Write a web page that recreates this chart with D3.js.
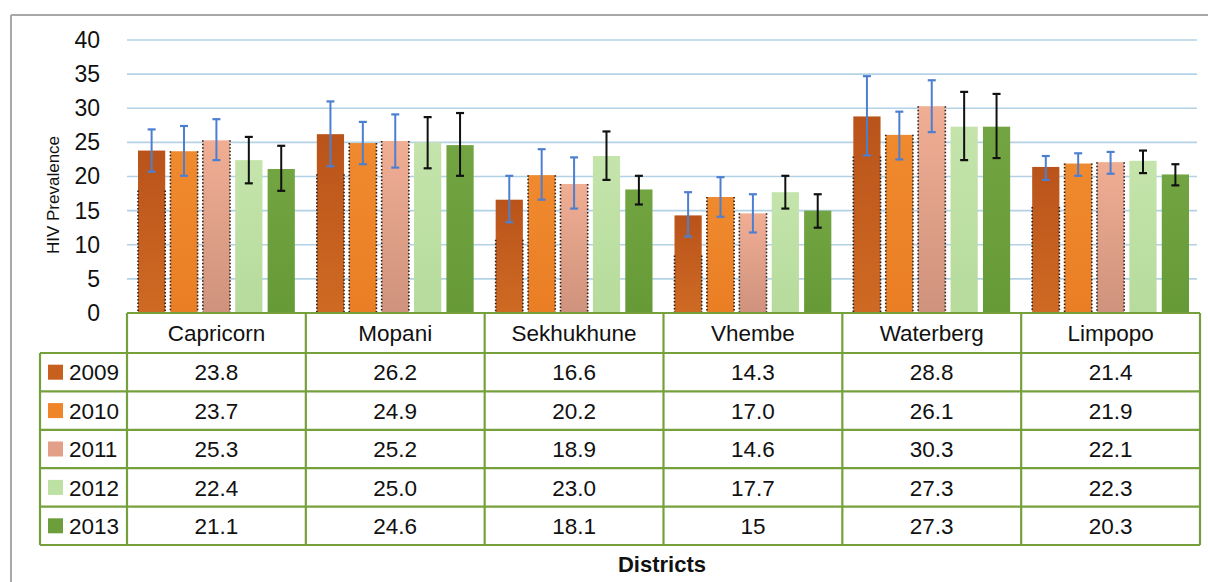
<!DOCTYPE html>
<html>
<head>
<meta charset="utf-8">
<script src="https://cdn.jsdelivr.net/npm/d3@7"></script>
<style>
  html, body { margin: 0; padding: 0; background: #ffffff; }
  svg { display: block; font-family: "Liberation Sans", Arial, sans-serif; }
</style>
</head>
<body>
<svg id="chart" width="1208" height="582"></svg>
<script>
// ---- data ----
const districts = ["Capricorn", "Mopani", "Sekhukhune", "Vhembe", "Waterberg", "Limpopo"];
const years = ["2009", "2010", "2011", "2012", "2013"];
const v2009 = [23.8, 26.2, 16.6, 14.3, 28.8, 21.4];
const v2010 = [23.7, 24.9, 20.2, 17.0, 26.1, 21.9];
const v2011 = [25.3, 25.2, 18.9, 14.6, 30.3, 22.1];
const v2012 = [22.4, 25.0, 23.0, 17.7, 27.3, 22.3];
const v2013 = [21.1, 24.6, 18.1, 15.0, 27.3, 20.3];
const label2009 = ["23.8", "26.2", "16.6", "14.3", "28.8", "21.4"];
const label2010 = ["23.7", "24.9", "20.2", "17.0", "26.1", "21.9"];
const label2011 = ["25.3", "25.2", "18.9", "14.6", "30.3", "22.1"];
const label2012 = ["22.4", "25.0", "23.0", "17.7", "27.3", "22.3"];
const label2013 = ["21.1", "24.6", "18.1", "15", "27.3", "20.3"];
// confidence interval ends
const low2009 = [20.7, 21.5, 13.3, 11.2, 23.1, 19.5];
const high2009 = [26.9, 31.0, 20.1, 17.7, 34.7, 23.0];
const low2010 = [20.1, 21.8, 16.6, 14.1, 22.5, 20.1];
const high2010 = [27.4, 28.0, 24.0, 19.9, 29.5, 23.4];
const low2011 = [22.4, 21.3, 15.3, 11.8, 26.5, 20.4];
const high2011 = [28.4, 29.1, 22.8, 17.4, 34.1, 23.6];
const low2012 = [19.0, 21.2, 19.5, 15.3, 22.4, 20.5];
const high2012 = [25.8, 28.7, 26.6, 20.1, 32.4, 23.8];
const low2013 = [17.9, 20.1, 15.9, 12.5, 22.7, 18.7];
const high2013 = [24.5, 29.3, 20.1, 17.4, 32.1, 21.8];
const yTicks = [0, 5, 10, 15, 20, 25, 30, 35, 40];

const values = [v2009, v2010, v2011, v2012, v2013];
const labels = [label2009, label2010, label2011, label2012, label2013];
const lows = [low2009, low2010, low2011, low2012, low2013];
const highs = [high2009, high2010, high2011, high2012, high2013];

// ---- styles ----
const colors = ["#c75f1e", "#ef8428", "#e3a088", "#bde0a3", "#6c9f3c"];
const colorsTop = ["#b9531a", "#f08a2e", "#f0ae94", "#c4e4ab", "#72a542"];
const colorsBot = ["#cf6a24", "#ea7e24", "#cf927c", "#b6db9c", "#669a36"];
const errColors = ["#4d7fd0", "#4d7fd0", "#4d7fd0", "#111111", "#111111"];
const gridColor = "#b3d2e6";
const tableColor = "#76a03c";

const svg = d3.select("#chart");

// frame
svg.append("line").attr("x1", 11).attr("x2", 1208).attr("y1", 15).attr("y2", 15)
  .attr("stroke", "#a8a8a8").attr("stroke-width", 2);
svg.append("line").attr("x1", 11).attr("x2", 11).attr("y1", 15).attr("y2", 582)
  .attr("stroke", "#a8a8a8").attr("stroke-width", 2);

const plotLeft = 127, plotRight = 1200;
const y = d3.scaleLinear().domain([0, 40]).range([313, 40]);
const x0 = d3.scaleBand().domain(districts).range([plotLeft, plotRight]).padding(0);
const x1 = d3.scaleBand().domain(years).range([11, x0.bandwidth() - 11]).paddingInner(0.16).paddingOuter(0);

// gradients
const defs = svg.append("defs");
years.forEach((yr, i) => {
  const g = defs.append("linearGradient").attr("id", "grad" + i)
    .attr("x1", 0).attr("y1", 0).attr("x2", 0).attr("y2", 1);
  g.append("stop").attr("offset", "0%").attr("stop-color", colorsTop[i]);
  g.append("stop").attr("offset", "100%").attr("stop-color", colorsBot[i]);
});

// gridlines
svg.append("g").selectAll("line").data(yTicks.filter(t => t > 0)).join("line")
  .attr("x1", plotLeft).attr("x2", 1197)
  .attr("y1", d => y(d)).attr("y2", d => y(d))
  .attr("stroke", gridColor).attr("stroke-width", 1.6);

// y axis labels
const yAxis = d3.axisLeft(y).tickValues(yTicks).tickSize(0).tickPadding(0);
const ya = svg.append("g").attr("transform", "translate(100,0)").call(yAxis);
ya.select(".domain").remove();
ya.selectAll("text").attr("font-size", 23).attr("fill", "#111")
  .attr("font-family", "Liberation Sans, Arial, sans-serif");

// y title
svg.append("text")
  .attr("transform", "translate(59,195) rotate(-90)")
  .attr("text-anchor", "middle")
  .attr("font-size", 17).attr("fill", "#111")
  .text("HIV Prevalence");

// bars
const groups = svg.append("g").selectAll("g").data(districts).join("g")
  .attr("transform", d => `translate(${x0(d)},0)`);

years.forEach((yr, si) => {
  const bx = d => x1(yr);
  groups.append("rect")
    .attr("x", bx)
    .attr("y", (d, di) => y(values[si][di]))
    .attr("width", x1.bandwidth())
    .attr("height", (d, di) => y(0) - y(values[si][di]))
    .attr("fill", `url(#grad${si})`);
  if (si < 3) {
    [0, x1.bandwidth()].forEach(off => {
      groups.append("line")
        .attr("x1", x1(yr) + off).attr("x2", x1(yr) + off)
        .attr("y1", (d, di) => y(values[si][di]) + (si === 0 ? 40 : 0))
        .attr("y2", y(0))
        .attr("stroke", "#222").attr("stroke-width", 1.6)
        .attr("stroke-dasharray", "1.5,2");
    });
  }
});

// error bars
years.forEach((yr, si) => {
  const cx = x1(yr) + x1.bandwidth() / 2;
  const c = errColors[si];
  groups.append("line")
    .attr("x1", cx).attr("x2", cx)
    .attr("y1", (d, di) => y(highs[si][di])).attr("y2", (d, di) => y(lows[si][di]))
    .attr("stroke", c).attr("stroke-width", 2);
  groups.append("line")
    .attr("x1", cx - 4).attr("x2", cx + 4)
    .attr("y1", (d, di) => y(highs[si][di])).attr("y2", (d, di) => y(highs[si][di]))
    .attr("stroke", c).attr("stroke-width", 2.2);
  groups.append("line")
    .attr("x1", cx - 4).attr("x2", cx + 4)
    .attr("y1", (d, di) => y(lows[si][di])).attr("y2", (d, di) => y(lows[si][di]))
    .attr("stroke", c).attr("stroke-width", 2.2);
});

// ---- data table ----
const headTop = y(0), headBottom = 353, tableBottom = 545, legendLeft = 40;
const rowY = d3.scaleBand().domain(years).range([headBottom, tableBottom]);
const tbl = svg.append("g");

// header texts
tbl.selectAll("text.head").data(districts).join("text").attr("class", "head")
  .attr("x", d => x0(d) + x0.bandwidth() / 2)
  .attr("y", (headTop + headBottom) / 2)
  .attr("dy", "0.36em").attr("text-anchor", "middle")
  .attr("font-size", 22.5).attr("fill", "#111")
  .text(d => d);

// cells
years.forEach((yr, si) => {
  tbl.append("g").selectAll("text").data(districts).join("text")
    .attr("x", d => x0(d) + x0.bandwidth() / 2)
    .attr("y", rowY(yr) + rowY.bandwidth() / 2)
    .attr("dy", "0.36em").attr("text-anchor", "middle")
    .attr("font-size", 22.5).attr("fill", "#111")
    .text((d, di) => labels[si][di]);
  // legend swatch + year
  tbl.append("rect")
    .attr("x", 48).attr("y", rowY(yr) + rowY.bandwidth() / 2 - 7.5)
    .attr("width", 15).attr("height", 15)
    .attr("fill", colors[si]);
  tbl.append("text")
    .attr("x", 69).attr("y", rowY(yr) + rowY.bandwidth() / 2)
    .attr("dy", "0.36em")
    .attr("font-size", 22.5).attr("fill", "#111")
    .text(yr);
});

// table lines
const hLines = [{y: headTop, x1: plotLeft}, {y: headBottom, x1: legendLeft}]
  .concat(years.map(yr => ({y: rowY(yr) + rowY.bandwidth(), x1: legendLeft})));
tbl.append("g").selectAll("line").data(hLines).join("line")
  .attr("x1", d => d.x1).attr("x2", plotRight)
  .attr("y1", d => d.y).attr("y2", d => d.y)
  .attr("stroke", tableColor).attr("stroke-width", 2.2);
const vLines = districts.map(d => x0(d)).concat([plotRight]);
tbl.append("g").selectAll("line").data(vLines).join("line")
  .attr("x1", d => d).attr("x2", d => d)
  .attr("y1", headTop).attr("y2", tableBottom)
  .attr("stroke", tableColor).attr("stroke-width", 2.2);
tbl.append("line").attr("x1", legendLeft).attr("x2", legendLeft)
  .attr("y1", headBottom).attr("y2", tableBottom)
  .attr("stroke", tableColor).attr("stroke-width", 2.2);

// x title
svg.append("text")
  .attr("x", 662).attr("y", 572)
  .attr("text-anchor", "middle")
  .attr("font-size", 22).attr("font-weight", "bold").attr("fill", "#111")
  .text("Districts");
</script>
</body>
</html>
